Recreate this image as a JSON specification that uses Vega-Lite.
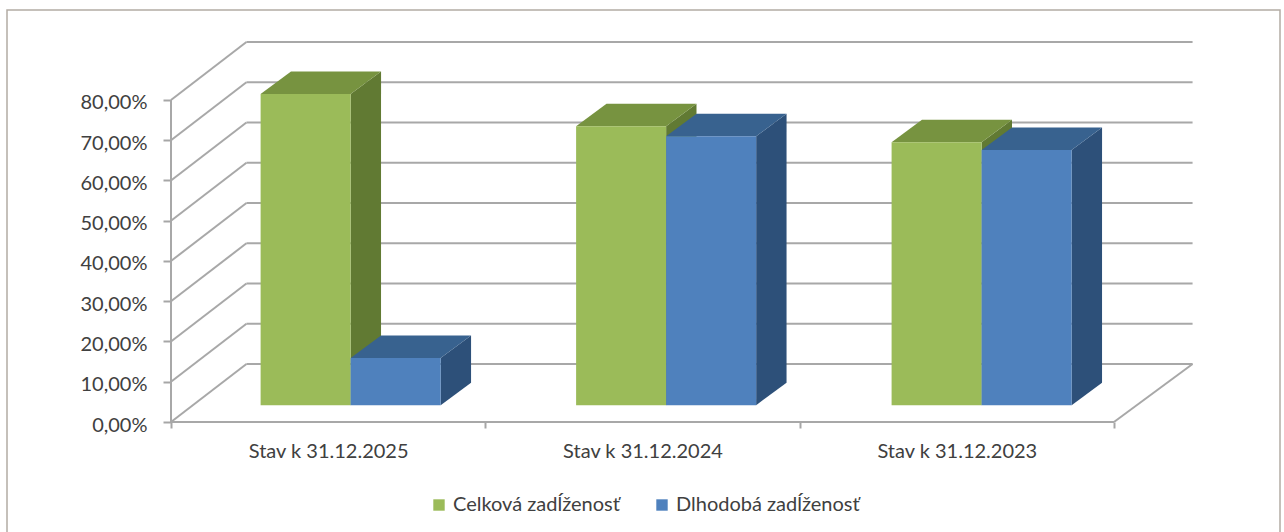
{"$schema":"https://vega.github.io/schema/vega-lite/v6.json","width":1273,"height":524,"autosize":"none","padding":{"left":7,"top":10,"right":4,"bottom":0},"background":"#ffffff","config":{"view":{"stroke":"#b3aca4","strokeWidth":1.5},"font":"Lato"},"datasets":{"bars":[{"period":"Stav k 31.12.2025","series":"Celková zadĺženosť","value":77.3},{"period":"Stav k 31.12.2025","series":"Dlhodobá zadĺženosť","value":11.7},{"period":"Stav k 31.12.2024","series":"Celková zadĺženosť","value":69.3},{"period":"Stav k 31.12.2024","series":"Dlhodobá zadĺženosť","value":66.8},{"period":"Stav k 31.12.2023","series":"Celková zadĺženosť","value":65.3},{"period":"Stav k 31.12.2023","series":"Dlhodobá zadĺženosť","value":63.4}],"ticks":[{"v":0},{"v":10},{"v":20},{"v":30},{"v":40},{"v":50},{"v":60},{"v":70},{"v":80}]},"encoding":{"x":{"field":"x","type":"quantitative","title":null,"stack":null,"scale":{"domain":[-0.52175,3.52816],"nice":false,"zero":false},"axis":{"orient":"bottom","offset":-112,"domain":false,"grid":false,"values":[0,0.5,1,1.5,2,2.5,3],"labelExpr":"datum.value==0.5?'Stav k 31.12.2025':datum.value==1.5?'Stav k 31.12.2024':datum.value==2.5?'Stav k 31.12.2023':''","labelFontSize":20,"labelColor":"#404040","labelPadding":13,"labelFont":"Lato","tickColor":"#a6a6a6","tickWidth":2,"tickSize":6,"tickOpacity":{"condition":{"test":"datum.value%1!==0","value":0},"value":1}}},"y":{"field":"y","type":"quantitative","title":null,"stack":null,"scale":{"domain":[-27.826,102.36],"nice":false,"zero":false},"axis":{"orient":"left","offset":-164,"domain":false,"grid":false,"values":[0,10,20,30,40,50,60,70,80],"labelExpr":"replace(format(datum.value,'.2f'),'.',',')+'%'","labelFontSize":20,"labelColor":"#404040","labelPadding":16,"labelOffset":3,"labelFont":"Lato","tickColor":"#a6a6a6","tickWidth":2,"tickSize":8}}},"layer":[{"data":{"name":"ticks"},"transform":[{"calculate":"0.24","as":"x"},{"calculate":"3.25","as":"x2"},{"calculate":"datum.v+14.4","as":"y"},{"calculate":"datum.v+14.4","as":"y2"}],"mark":{"type":"rule","color":"#a8a8a8","strokeWidth":2},"encoding":{"x2":{"field":"x2"},"y2":{"field":"y2"}}},{"data":{"name":"ticks"},"transform":[{"calculate":"0","as":"x"},{"calculate":"0.24","as":"x2"},{"calculate":"datum.v","as":"y"},{"calculate":"datum.v+14.4","as":"y2"}],"mark":{"type":"rule","color":"#a8a8a8","strokeWidth":2},"encoding":{"x2":{"field":"x2"},"y2":{"field":"y2"}}},{"data":{"name":"ticks"},"transform":[{"filter":"datum.v==0"},{"calculate":"0","as":"x"},{"calculate":"0","as":"x2"},{"calculate":"0","as":"y"},{"calculate":"80","as":"y2"}],"mark":{"type":"rule","color":"#a8a8a8","strokeWidth":2},"encoding":{"x2":{"field":"x2"},"y2":{"field":"y2"}}},{"data":{"name":"ticks"},"transform":[{"filter":"datum.v==0"},{"calculate":"0","as":"x"},{"calculate":"3","as":"x2"},{"calculate":"0","as":"y"},{"calculate":"0","as":"y2"}],"mark":{"type":"rule","color":"#a8a8a8","strokeWidth":2},"encoding":{"x2":{"field":"x2"},"y2":{"field":"y2"}}},{"data":{"name":"ticks"},"transform":[{"filter":"datum.v==0"},{"calculate":"3","as":"x"},{"calculate":"3.25","as":"x2"},{"calculate":"0","as":"y"},{"calculate":"14.4","as":"y2"}],"mark":{"type":"rule","color":"#a8a8a8","strokeWidth":2},"encoding":{"x2":{"field":"x2"},"y2":{"field":"y2"}}},{"data":{"name":"bars"},"transform":[{"calculate":"indexof(['Stav k 31.12.2025','Stav k 31.12.2024','Stav k 31.12.2023'],datum.period)*1.0037+0.5+0.0715+(datum.series==='Celková zadĺženosť'?-0.2864:0)+0.2864","as":"xr"},{"calculate":"[0,1]","as":"t"},{"flatten":["t"]},{"calculate":"datum.xr+datum.t*0.0967","as":"x"},{"calculate":"4.18+datum.t*5.6","as":"y"},{"calculate":"datum.value+4.18+datum.t*5.6","as":"y2"},{"calculate":"datum.period+datum.series","as":"key"}],"mark":{"type":"area","orient":"vertical"},"encoding":{"y2":{"field":"y2"},"detail":{"field":"key"},"color":{"condition":{"test":"datum.series==='Celková zadĺženosť'","value":"#617A33"},"value":"#2D5079"}}},{"data":{"name":"bars"},"transform":[{"calculate":"indexof(['Stav k 31.12.2025','Stav k 31.12.2024','Stav k 31.12.2023'],datum.period)*1.0037+0.5+0.0715+(datum.series==='Celková zadĺženosť'?-0.2864:0)","as":"xl"},{"calculate":"[0,1]","as":"t"},{"flatten":["t"]},{"calculate":"datum.xl+datum.t*0.0967","as":"x"},{"calculate":"datum.xl+0.2864+datum.t*0.0967","as":"x2"},{"calculate":"datum.value+4.18+datum.t*5.6","as":"y"},{"calculate":"datum.period+datum.series","as":"key"}],"mark":{"type":"area","orient":"horizontal"},"encoding":{"x2":{"field":"x2"},"detail":{"field":"key"},"color":{"condition":{"test":"datum.series==='Celková zadĺženosť'","value":"#779340"},"value":"#38628F"}}},{"data":{"name":"bars"},"transform":[{"calculate":"indexof(['Stav k 31.12.2025','Stav k 31.12.2024','Stav k 31.12.2023'],datum.period)*1.0037+0.5+0.0715+(datum.series==='Celková zadĺženosť'?-0.2864:0)","as":"x"},{"calculate":"datum.x+0.2864","as":"x2"},{"calculate":"4.18","as":"y"},{"calculate":"datum.value+4.18","as":"y2"}],"mark":{"type":"rect"},"encoding":{"x2":{"field":"x2"},"y2":{"field":"y2"},"color":{"field":"series","type":"nominal","scale":{"domain":["Celková zadĺženosť","Dlhodobá zadĺženosť"],"range":["#9BBB59","#4F81BD"]},"legend":{"title":null,"orient":"none","direction":"horizontal","columns":2,"legendX":422,"legendY":485,"symbolType":"square","symbolSize":130,"symbolStrokeWidth":0,"labelFontSize":20,"labelColor":"#404040","labelLimit":300,"labelFont":"Lato","columnPadding":32,"symbolOffset":0,"padding":0}}}}]}
